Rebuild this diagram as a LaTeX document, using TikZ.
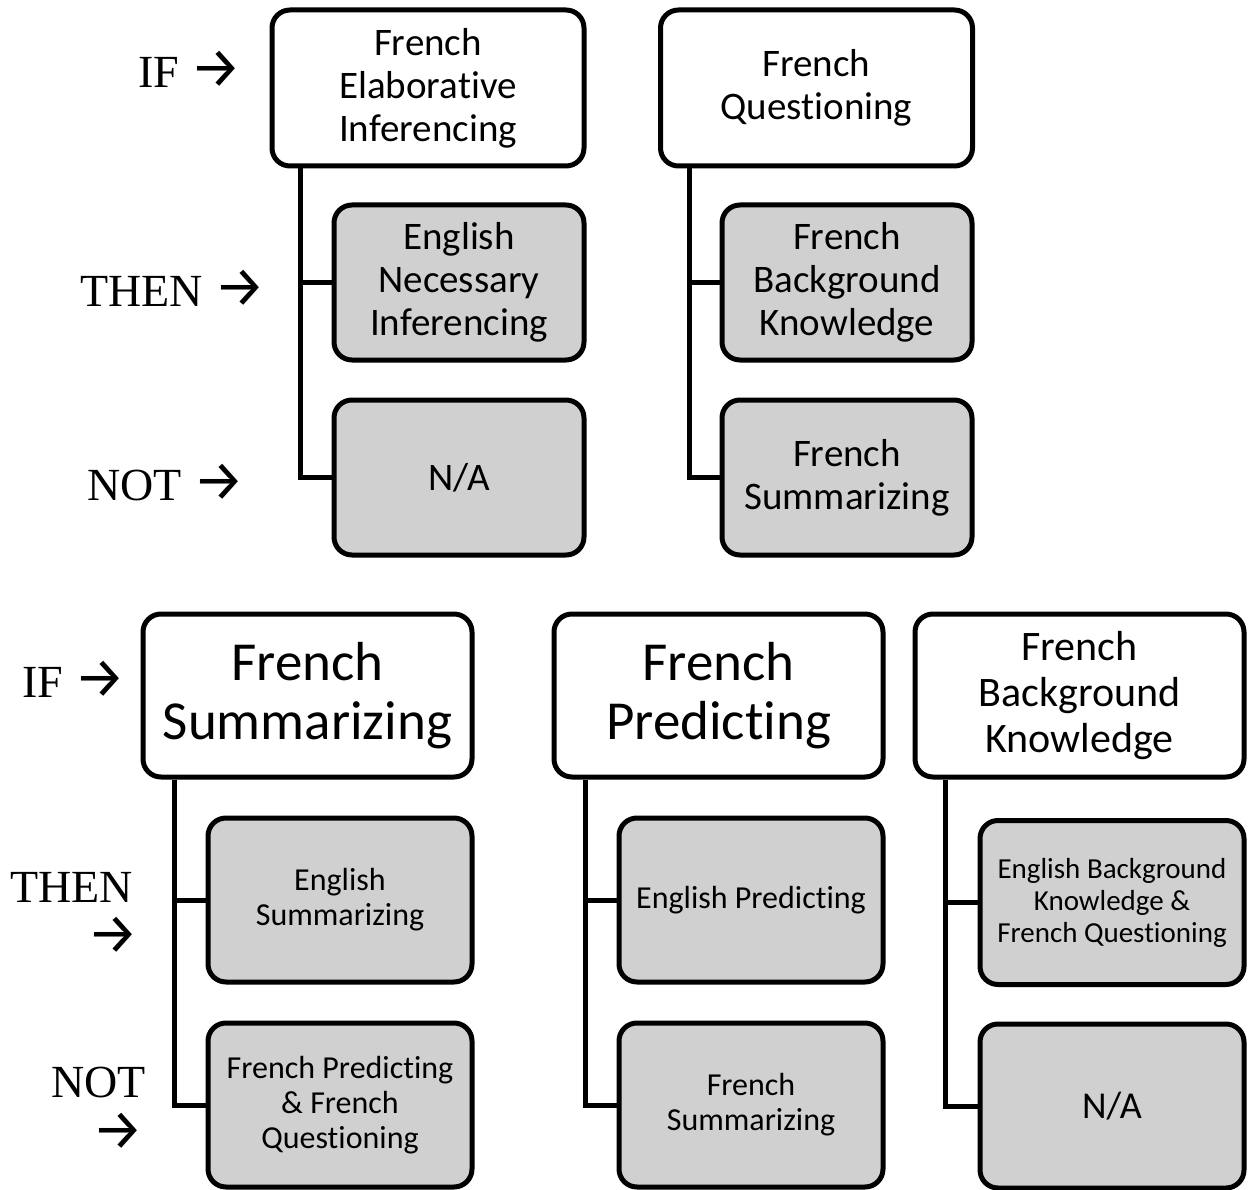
\documentclass[tikz,border=0pt]{standalone}
\usepackage{fontspec}
\setmainfont{Carlito}[RawFeature={-liga;-clig;-dlig;-calt;-hlig}]
\newfontfamily\cuefont{Liberation Serif}
\newfontfamily\arrowfont{Fira Sans}
\newcommand{\cuearrow}{{\arrowfont\fontsize{57}{52}\selectfont →}}
\definecolor{boxgray}{RGB}{208,208,208}
\begin{document}
\begin{tikzpicture}[x=1pt,y=-1pt,
  box/.style={draw=black, line width=5pt, rounded corners=18pt, align=center,
              inner sep=0pt, text=black},
  ifbox/.style={box, fill=white, minimum width=329pt, minimum height=163pt},
  subbox/.style={box, fill=boxgray, minimum width=264pt, minimum height=164pt},
  ifboxs/.style={box, fill=white, minimum width=312pt, minimum height=156pt},
  subboxs/.style={box, fill=boxgray, minimum width=250pt, minimum height=155pt},
  link/.style={draw=black, line width=5pt},
  cue/.style={font=\cuefont\fontsize{46}{52}\selectfont, inner sep=0pt, text=black},
  fmid/.style={font=\fontsize{39}{43}\selectfont},
  fbig/.style={font=\fontsize{55}{59}\selectfont},
  fsmall/.style={font=\fontsize{32}{35}\selectfont},
]
\useasboundingbox (0,0) rectangle (1250,1190);

% ---- upper pair of trees ----
\node[ifboxs, fmid]  (A1) at (428,88)    {French\\Elaborative\\Inferencing};
\node[subboxs, fmid] (A2) at (459,282.5) {English\\Necessary\\Inferencing};
\node[subboxs, fmid] (A3) at (459,477.5) {N/A};

\node[ifboxs, fmid]  (B1) at (816.5,88)  {French\\Questioning};
\node[subboxs, fmid] (B2) at (847,282.5) {French\\Background\\Knowledge};
\node[subboxs, fmid] (B3) at (847,477.5) {French\\Summarizing};

\draw[link] ([xshift=31pt]A1.south west) |- (A3.west);
\draw[link] ([xshift=31pt]A1.south west) |- (A2.west);
\draw[link] ([xshift=31pt]B1.south west) |- (B3.west);
\draw[link] ([xshift=31pt]B1.south west) |- (B2.west);

% ---- lower row of trees ----
\node[ifbox, fbig]    (C1) at (307.5,695.5) {French\\Summarizing};
\node[subbox, fsmall] (C2) at (340,900)     {English\\Summarizing};
\node[subbox, fsmall] (C3) at (340,1105)    {French Predicting\\\& French\\Questioning};

\node[ifbox, fbig]    (D1) at (718.5,695.5) {French\\Predicting};
\node[subbox, fsmall] (D2) at (751,900)     {English Predicting};
\node[subbox, fsmall] (D3) at (751,1105)    {French\\Summarizing};

\node[ifbox, font=\fontsize{42}{46}\selectfont] (E1) at (1079.5,695.5) {French\\Background\\Knowledge};
\node[subbox, font=\fontsize{29}{32}\selectfont] (E2) at (1112,902.5) {English Background\\Knowledge \&\\French Questioning};
\node[subbox, font=\fontsize{38}{42}\selectfont] (E3) at (1112,1106) {N/A};

\draw[link] ([xshift=34pt]C1.south west) |- (C3.west);
\draw[link] ([xshift=34pt]C1.south west) |- (C2.west);
\draw[link] ([xshift=34pt]D1.south west) |- (D3.west);
\draw[link] ([xshift=34pt]D1.south west) |- (D2.west);
\draw[link] ([xshift=33pt]E1.south west) |- (E3.west);
\draw[link] ([xshift=33pt]E1.south west) |- (E2.west);

% ---- row cues ----
\node[cue, anchor=base west] (ifA)   at (138,88)  {IF \cuearrow};
\node[cue, anchor=base west] (thenA) at (80,306)  {THEN \cuearrow};
\node[cue, anchor=base west] (notA)  at (87,500)  {NOT \cuearrow};

\node[cue, anchor=base west] (ifB)    at (22,697)   {IF \cuearrow};
\node[cue, anchor=base east] (thenB)  at (133,902)  {THEN};
\node[cue, anchor=base east] (thenBa) at (139,953)  {\cuearrow};
\node[cue, anchor=base east] (notB)   at (146,1097) {NOT};
\node[cue, anchor=base east] (notBa)  at (144,1149) {\cuearrow};
\end{tikzpicture}
\end{document}
